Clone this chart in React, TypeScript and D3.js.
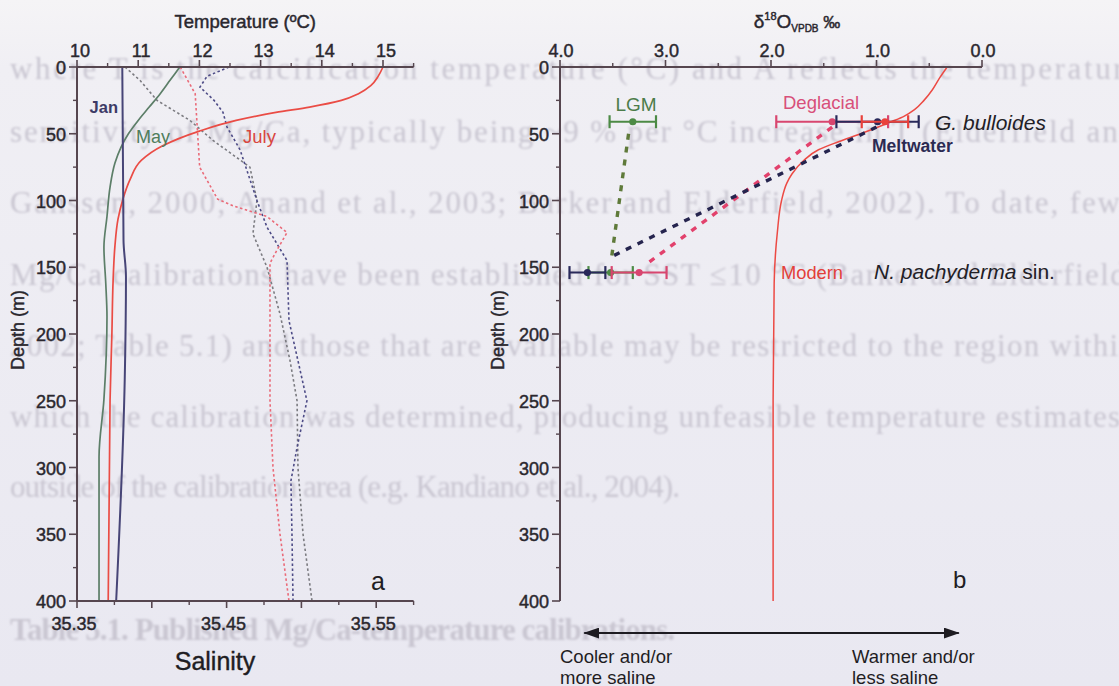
import React from "react";
import * as d3 from "d3";

const W = 1119;
const H = 686;

// ---------- Panel a : temperature profiles (solid lines, top axis) ----------
const janDepth = [0, 130, 157, 234, 400];
const janTemp = [10.74, 10.76, 10.8, 10.78, 10.64];
const mayDepth = [0, 10, 20, 30, 40, 50, 60, 72, 90, 112, 135, 162, 187, 249, 292, 400];
const mayTemp = [11.68, 11.52, 11.36, 11.18, 11.0, 10.84, 10.72, 10.62, 10.54, 10.49, 10.44, 10.47, 10.49, 10.44, 10.36, 10.36];
const julyDepth = [0, 7, 14, 20, 25, 30, 34, 40, 48, 59, 70, 84, 99, 114, 134, 160, 200, 250, 400];
const julyTemp = [15.0, 14.92, 14.8, 14.6, 14.32, 13.8, 13.25, 12.6, 12.0, 11.4, 11.05, 10.87, 10.75, 10.67, 10.62, 10.59, 10.57, 10.54, 10.51];

// ---------- Panel a : salinity profiles (dotted lines, bottom axis) ----------
const janSalDepth = [0, 7, 15, 25, 34, 45, 62, 100, 120, 145, 190, 250, 285, 310, 350, 400];
const janSal = [35.4516, 35.4369, 35.4322, 35.4416, 35.4476, 35.4503, 35.459, 35.4703, 35.477, 35.4904, 35.4917, 35.5037, 35.4971, 35.493, 35.4937, 35.4944];
const maySalDepth = [0, 10, 25, 40, 55, 75, 100, 125, 150, 185, 220, 250, 300, 350, 400];
const maySal = [35.3821, 35.3921, 35.4035, 35.4255, 35.4409, 35.4656, 35.4703, 35.4676, 35.477, 35.4857, 35.4924, 35.4971, 35.4977, 35.5011, 35.5071];
const julySalDepth = [0, 20, 75, 99, 104, 112, 124, 137, 147, 250, 300, 350, 400];
const julySal = [35.419, 35.429, 35.432, 35.444, 35.4543, 35.477, 35.4904, 35.4837, 35.479, 35.479, 35.481, 35.4857, 35.4917];

// ---------- Panel b : modern equilibrium d18O profile ----------
const modernDepth = [0, 8, 17, 25, 32, 37, 41, 50, 56, 62, 70, 80, 87, 100, 124, 162, 250, 400];
const modernD18O = [0.33, 0.4, 0.47, 0.55, 0.64, 0.74, 0.86, 1.15, 1.36, 1.55, 1.69, 1.8, 1.85, 1.9, 1.94, 1.97, 1.98, 1.98];

// ---------- Panel b : foraminiferal d18O (mean ± error) ----------
const periods = ["LGM", "Deglacial", "Meltwater", "Modern"];
const bulloidesDepth = 41;
const bulloidesMean = [3.31, 1.42, 0.99, 0.92];
const bulloidesErr = [0.22, 0.53, 0.39, 0.22];
const pachyDepth = 154;
const pachyMean = [3.52, 3.25, 3.74, NaN];
const pachyErr = [0.21, 0.26, 0.17, NaN];

// dotted connectors (from G. bulloides towards N. pachyderma)
const connPeriod = ["LGM", "Deglacial", "Meltwater"];
const connFromD18O = [3.35, 1.42, 1.0];
const connFromDepth = [50, 45, 45];
const connToD18O = [3.51, 3.17, 3.51];
const connToDepth = [142, 147, 142];

// ---------- Axis ticks ----------
const depthTicks = [0, 50, 100, 150, 200, 250, 300, 350, 400];
const depthMinor = [25, 75, 125, 175, 225, 275, 325, 375];
const tempTicks = [10, 11, 12, 13, 14, 15];
const tempMinor = [10.5, 11.5, 12.5, 13.5, 14.5, 15.5];
const salMajor = [35.35, 35.4, 35.45, 35.5, 35.55];
const salMinor = [35.375, 35.425, 35.475, 35.525, 35.575];
const salLabels = [35.35, 35.45, 35.55];
const d18Ticks = [4, 3, 2, 1, 0];
const d18Minor = [3.5, 2.5, 1.5, 0.5];

// ---------- faint text of the scanned page showing through ----------
const bleedLines = [
  "where T is the calcification temperature (°C) and A reflects the temperature",
  "sensitivity of Mg/Ca, typically being ~9 % per °C increase in T (Elderfield and",
  "Ganssen, 2000; Anand et al., 2003; Barker and Elderfield, 2002). To date, few",
  "Mg/Ca calibrations have been established for SST ≤10 °C (Barker and Elderfield,",
  "2002; Table 5.1) and those that are available may be restricted to the region within",
  "which the calibration was determined, producing unfeasible temperature estimates",
  "outside of the calibration area (e.g. Kandiano et al., 2004).",
  "Table 5.1. Published Mg/Ca-temperature calibrations.",
];
const bleedLayout = [
  { y: 79, len: 1130 },
  { y: 142, len: 1125 },
  { y: 213, len: 1110 },
  { y: 285, len: 1125 },
  { y: 356, len: 1125 },
  { y: 427, len: 1110 },
  { y: 497, len: 670 },
  { y: 640, len: 665 },
];

const periodColor: Record<string, string> = {
  LGM: "#4c8a45",
  Deglacial: "#d8466f",
  Meltwater: "#29295a",
  Modern: "#e9413b",
};
const connColor: Record<string, string> = {
  LGM: "#5f7a3a",
  Deglacial: "#e2416c",
  Meltwater: "#25244e",
};

export default function App() {
  const y = d3.scaleLinear().domain([0, 400]).range([67, 601]);
  const tX = d3.scaleLinear().domain([10, 15.5]).range([77, 413.6]);
  const sX = d3.scaleLinear().domain([35.35, 35.575]).range([77, 413.6]);
  const oX = d3.scaleLinear().domain([4, 0]).range([560, 982]);

  const profile = (vals: number[], depths: number[], xs: (v: number) => number, curve: any) =>
    d3
      .line<number>()
      .x((_d, i) => xs(vals[i]))
      .y((d) => y(d))
      .curve(curve)(depths) || "";

  const font = "'Liberation Sans', Arial, Helvetica, sans-serif";
  const axisCol = "#56464f";
  const textCol = "#2a272e";
  const fs = 18;
  const bold = { stroke: textCol, strokeWidth: 0.45 };

  const aX0 = tX(10);
  const bX0 = oX(4);

  const depthAxis = (x0: number) => (
    <g>
      <line x1={x0} x2={x0} y1={y(0)} y2={y(400)} stroke={axisCol} strokeWidth={2} />
      {depthTicks.map((d) => (
        <g key={"dt" + d}>
          <line x1={x0 - 8} x2={x0} y1={y(d)} y2={y(d)} stroke={axisCol} strokeWidth={1.6} />
          <text x={x0 - 11} y={y(d) + 1} textAnchor="end" dominantBaseline="central" fontSize={fs} fill={textCol} {...bold}>
            {d}
          </text>
        </g>
      ))}
      {depthMinor.map((d) => (
        <line key={"dm" + d} x1={x0 - 4} x2={x0} y1={y(d)} y2={y(d)} stroke={axisCol} strokeWidth={1.4} />
      ))}
    </g>
  );

  const errorBar = (mean: number, err: number, depth: number, color: string, key: string) => (
    <g key={key}>
      <line x1={oX(mean + err)} x2={oX(mean - err)} y1={y(depth)} y2={y(depth)} stroke={color} strokeWidth={2} />
      <line x1={oX(mean + err)} x2={oX(mean + err)} y1={y(depth) - 6.5} y2={y(depth) + 6.5} stroke={color} strokeWidth={2.2} />
      <line x1={oX(mean - err)} x2={oX(mean - err)} y1={y(depth) - 6.5} y2={y(depth) + 6.5} stroke={color} strokeWidth={2.2} />
      <circle cx={oX(mean)} cy={y(depth)} r={3.6} fill={color} />
    </g>
  );

  return (
    <svg
      width={W}
      height={H}
      viewBox={`0 0 ${W} ${H}`}
      style={{ position: "absolute", left: 0, top: 0, display: "block" }}
      fontFamily={font}
    >
      <defs>
        <linearGradient id="bg" x1="0" y1="0" x2="0" y2="1">
          <stop offset="0" stopColor="#f5f4f6" />
          <stop offset="0.1" stopColor="#f0eff4" />
          <stop offset="1" stopColor="#e9e8f1" />
        </linearGradient>
        <filter id="blur" x="-5%" y="-20%" width="110%" height="140%">
          <feGaussianBlur stdDeviation="1.3" />
        </filter>
        <marker
          id="arrowHead"
          markerUnits="userSpaceOnUse"
          markerWidth="16"
          markerHeight="11"
          viewBox="0 0 16 11"
          refX="15"
          refY="5.5"
          orient="auto-start-reverse"
        >
          <path d="M0,0 L16,5.5 L0,11 Z" fill="#1d1b21" />
        </marker>
      </defs>

      <rect x={0} y={0} width={W} height={H} fill="url(#bg)" />

      {/* page text showing through */}
      <g filter="url(#blur)" fill="#c9c6d1" fontFamily="'Liberation Serif', 'Times New Roman', serif" fontSize={31}>
        {bleedLines.map((t, i) => (
          <text
            key={"bl" + i}
            x={10}
            y={bleedLayout[i].y}
            textLength={bleedLayout[i].len}
            lengthAdjust="spacing"
            fontWeight={i === 7 ? "bold" : "normal"}
          >
            {t}
          </text>
        ))}
      </g>

      {/* ================= Panel a ================= */}
      <g>
        {/* salinity dotted */}
        <path d={profile(maySal, maySalDepth, sX, d3.curveLinear)} fill="none" stroke="#7b7b80" strokeWidth={1.6} strokeDasharray="2.5 2.5" />
        <path d={profile(janSal, janSalDepth, sX, d3.curveLinear)} fill="none" stroke="#4d4b86" strokeWidth={1.6} strokeDasharray="2.5 2.5" />
        <path d={profile(julySal, julySalDepth, sX, d3.curveLinear)} fill="none" stroke="#ea6a78" strokeWidth={1.6} strokeDasharray="2.5 2.5" />

        {/* temperature solid */}
        <path d={profile(mayTemp, mayDepth, tX, d3.curveMonotoneY)} fill="none" stroke="#5c7e68" strokeWidth={1.7} />
        <path d={profile(julyTemp, julyDepth, tX, d3.curveMonotoneY)} fill="none" stroke="#ea4c45" strokeWidth={1.7} />
        <path d={profile(janTemp, janDepth, tX, d3.curveMonotoneY)} fill="none" stroke="#474577" strokeWidth={2} />

        {depthAxis(aX0)}

        {/* top temperature axis */}
        <line x1={aX0} x2={tX(15.5)} y1={y(0)} y2={y(0)} stroke={axisCol} strokeWidth={2} />
        {tempTicks.map((t) => (
          <g key={"tt" + t}>
            <line x1={tX(t)} x2={tX(t)} y1={y(0) - 7} y2={y(0)} stroke={axisCol} strokeWidth={1.6} />
            <text x={tX(t) + 3} y={y(0) - 10} textAnchor="middle" fontSize={fs} fill={textCol} {...bold}>
              {t}
            </text>
          </g>
        ))}
        {tempMinor.map((t) => (
          <line key={"tm" + t} x1={tX(t)} x2={tX(t)} y1={y(0) - 4} y2={y(0)} stroke={axisCol} strokeWidth={1.4} />
        ))}
        <text x={(tX(10) + tX(15.5)) / 2} y={28} textAnchor="middle" fontSize={18.5} fill={textCol} {...bold}>
          Temperature (ºC)
        </text>

        {/* bottom salinity axis */}
        <line x1={sX(35.35)} x2={sX(35.575)} y1={y(400)} y2={y(400)} stroke={axisCol} strokeWidth={2} />
        {salMajor.map((s) => (
          <line key={"sm" + s} x1={sX(s)} x2={sX(s)} y1={y(400)} y2={y(400) + 7} stroke={axisCol} strokeWidth={1.6} />
        ))}
        {salMinor.map((s) => (
          <line key={"sn" + s} x1={sX(s)} x2={sX(s)} y1={y(400)} y2={y(400) + 4} stroke={axisCol} strokeWidth={1.4} />
        ))}
        {salLabels.map((s) => (
          <text key={"sl" + s} x={sX(s) - 3} y={y(400) + 29} textAnchor="middle" fontSize={fs} fill={textCol} {...bold}>
            {s.toFixed(2)}
          </text>
        ))}
        <text x={215} y={670} textAnchor="middle" fontSize={25} fill="#1f1d23" stroke="#1f1d23" strokeWidth={0.4}>
          Salinity
        </text>

        <text x={18} y={330} transform="rotate(-90 18 330)" textAnchor="middle" dominantBaseline="central" fontSize={18} fill={textCol} {...bold}>
          Depth (m)
        </text>

        {/* month labels */}
        <text x={118} y={113} textAnchor="end" fontSize={16.5} fontWeight="bold" fill="#3d3a66">
          Jan
        </text>
        <text x={136} y={143} fontSize={18} fill="#4f7d5c">
          May
        </text>
        <text x={243} y={143} fontSize={18.5} fill="#d9463f">
          July
        </text>

        <text x={371} y={590} fontSize={25} fill="#1f1d23">
          a
        </text>
      </g>

      {/* ================= Panel b ================= */}
      <g>
        {/* modern equilibrium curve */}
        <path d={profile(modernD18O, modernDepth, oX, d3.curveMonotoneY)} fill="none" stroke="#ec4a44" strokeWidth={1.5} />

        {/* dotted connectors */}
        {connPeriod.map((p, i) => (
          <line
            key={"cn" + p}
            x1={oX(connFromD18O[i])}
            y1={y(connFromDepth[i])}
            x2={oX(connToD18O[i])}
            y2={y(connToDepth[i])}
            stroke={connColor[p]}
            strokeWidth={3.4}
            strokeDasharray="6 7"
          />
        ))}

        {/* error bars */}
        {periods.map((p, i) => errorBar(bulloidesMean[i], bulloidesErr[i], bulloidesDepth, periodColor[p], "gb" + p))}
        {periods.map((p, i) =>
          Number.isFinite(pachyMean[i]) ? errorBar(pachyMean[i], pachyErr[i], pachyDepth, periodColor[p], "np" + p) : null
        )}

        {depthAxis(bX0)}

        {/* top d18O axis */}
        <line x1={oX(4)} x2={oX(0)} y1={y(0)} y2={y(0)} stroke={axisCol} strokeWidth={2} />
        {d18Ticks.map((t) => (
          <g key={"ot" + t}>
            <line x1={oX(t)} x2={oX(t)} y1={y(0) - 7} y2={y(0)} stroke={axisCol} strokeWidth={1.6} />
            <text x={oX(t) + 1} y={y(0) - 10} textAnchor="middle" fontSize={fs} fill={textCol} {...bold}>
              {t.toFixed(1)}
            </text>
          </g>
        ))}
        {d18Minor.map((t) => (
          <line key={"om" + t} x1={oX(t)} x2={oX(t)} y1={y(0) - 4} y2={y(0)} stroke={axisCol} strokeWidth={1.4} />
        ))}
        <text x={797} y={28} textAnchor="middle" fill={textCol} {...bold}>
          <tspan fontSize={19}>δ</tspan>
          <tspan fontSize={11} dy={-8}>18</tspan>
          <tspan fontSize={19} dy={8}>O</tspan>
          <tspan fontSize={10} dy={4}>VPDB</tspan>
          <tspan fontSize={17} dy={-4}> ‰</tspan>
        </text>

        <text x={498} y={330} transform="rotate(-90 498 330)" textAnchor="middle" dominantBaseline="central" fontSize={18} fill={textCol} {...bold}>
          Depth (m)
        </text>

        {/* period / species labels */}
        <text x={636} y={111} textAnchor="middle" fontSize={19} fill="#4c7c4a">
          LGM
        </text>
        <text x={783} y={109} fontSize={18.5} fill="#d8507a">
          Deglacial
        </text>
        <text x={935} y={130} fontSize={21} fontStyle="italic" fill="#222026">
          G. bulloides
        </text>
        <text x={872} y={152} fontSize={17.5} fontWeight="bold" fill="#2b2a52">
          Meltwater
        </text>
        <text x={781} y={279} fontSize={18.3} fill="#e3403a">
          Modern
        </text>
        <text x={874} y={279} fontSize={21} fill="#222026">
          <tspan fontStyle="italic">N. pachyderma</tspan>
          <tspan> sin.</tspan>
        </text>

        <text x={953} y={588} fontSize={24} fill="#1f1d23">
          b
        </text>

        {/* direction arrow */}
        <line
          x1={oX(3.77)}
          x2={oX(0.22)}
          y1={y(424)}
          y2={y(424)}
          stroke="#1d1b21"
          strokeWidth={2}
          markerStart="url(#arrowHead)"
          markerEnd="url(#arrowHead)"
        />
        <text x={560} y={663} fontSize={18.5} fill="#1f1d23">
          Cooler and/or
        </text>
        <text x={560} y={684} fontSize={18.5} fill="#1f1d23">
          more saline
        </text>
        <text x={852} y={663} fontSize={18.5} fill="#1f1d23">
          Warmer and/or
        </text>
        <text x={852} y={684} fontSize={18.5} fill="#1f1d23">
          less saline
        </text>
      </g>
    </svg>
  );
}
